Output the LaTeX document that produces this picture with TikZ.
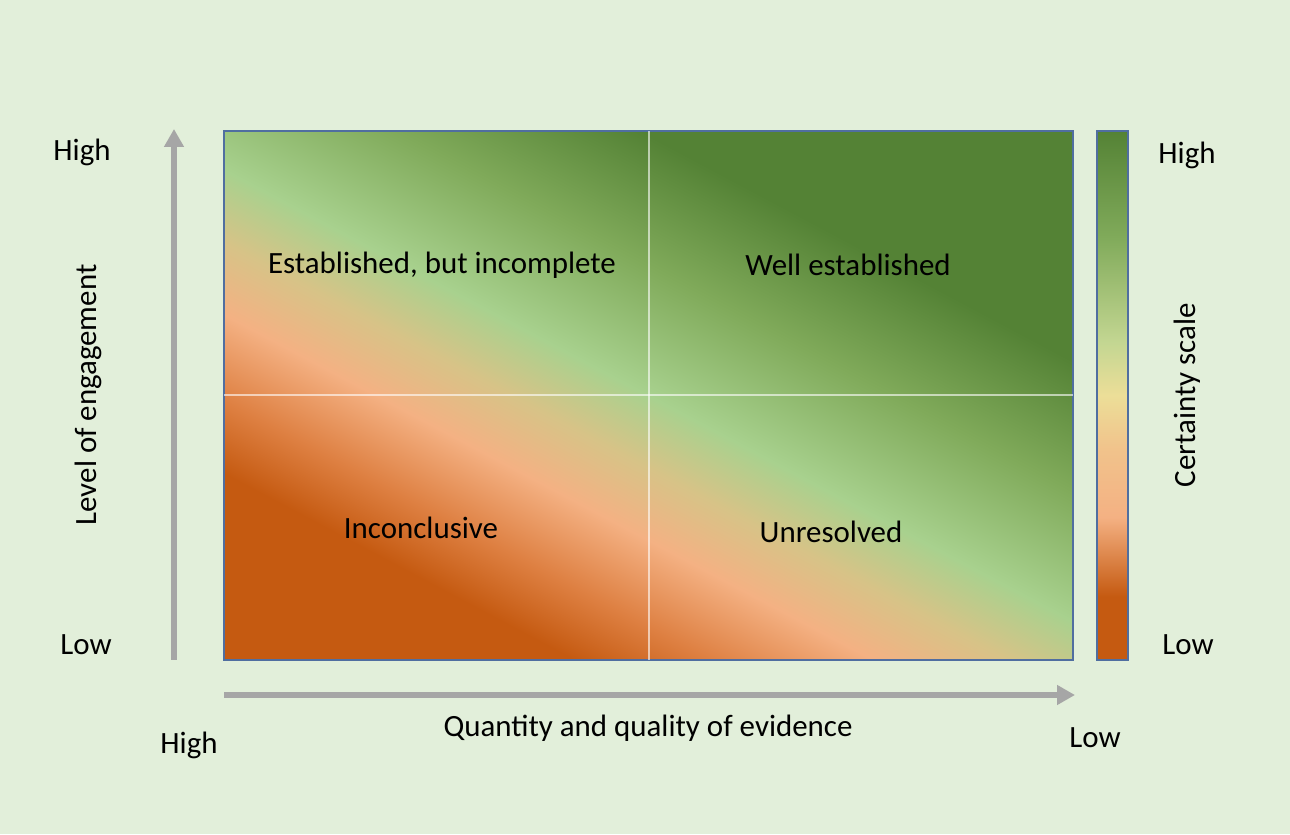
\documentclass[tikz,border=0pt]{standalone}
\usepackage{fontspec}
\setmainfont{Carlito}
\usetikzlibrary{arrows.meta}

\definecolor{pagebg}{RGB}{226,239,218}
\definecolor{lowdark}{RGB}{197,90,17}
\definecolor{lowmid}{RGB}{222,128,66}
\definecolor{lowlight}{RGB}{244,177,131}
\definecolor{midtan}{RGB}{215,195,135}
\definecolor{midyellow}{RGB}{236,222,152}
\definecolor{highlight}{RGB}{168,209,142}
\definecolor{highmid}{RGB}{128,170,90}
\definecolor{highdark}{RGB}{84,130,53}
\definecolor{axisgrey}{RGB}{166,166,166}
\definecolor{frameblue}{RGB}{80,110,160}

% diagonal field behind the four cells
\pgfdeclareverticalshading{certaintyfield}{100bp}{
  color(0bp)=(lowdark); color(29bp)=(lowdark); color(34bp)=(lowmid);
  color(40bp)=(lowlight); color(45bp)=(midtan); color(50bp)=(highlight);
  color(59bp)=(highmid); color(68bp)=(highdark); color(100bp)=(highdark)}
% the scale bar, low at the bottom
\pgfdeclareverticalshading{certaintybar}{100bp}{
  color(0bp)=(lowdark); color(31bp)=(lowdark); color(38.5bp)=(lowlight);
  color(45bp)=(lowlight!60!midyellow); color(50bp)=(midyellow);
  color(55bp)=(midyellow!40!highlight); color(65bp)=(highmid);
  color(75bp)=(highdark); color(100bp)=(highdark)}

\begin{document}
\begin{tikzpicture}[every node/.style={font=\fontsize{17.6}{21}\selectfont, inner sep=0pt},
    axis/.style={draw=axisgrey, line width=0.12cm, -{Triangle[width=0.38cm, length=0.36cm]}},
    cellline/.style={draw=white, opacity=0.6, line width=0.6pt},
    frame/.style={draw=frameblue, line width=0.6pt}]
    \useasboundingbox (0,0) rectangle (25.8,16.68);
    \fill[pagebg] (0,0) rectangle (25.8,16.68);

    % grid and scale bar
    \shade[shading=certaintyfield, shading angle=-28] (4.48,3.48) rectangle (21.46,14.06);
    \draw[frame] (4.48,3.48) rectangle (21.46,14.06);
    \draw[cellline] (12.98,3.48) -- (12.98,14.06);
    \draw[cellline] (4.48,8.78) -- (21.46,8.78);
    \shade[shading=certaintybar] (21.94,3.48) rectangle (22.56,14.06);
    \draw[frame] (21.94,3.48) rectangle (22.56,14.06);

    % axes
    \coordinate (yfoot) at (3.48,3.48);
    \coordinate (yhead) at (3.48,14.1);
    \coordinate (xfoot) at (4.48,2.78);
    \coordinate (xhead) at (21.5,2.78);
    \draw[axis] (yfoot) -- (yhead);
    \draw[axis] (xfoot) -- (xhead);

    % cell labels
    \node (partial) at (8.84,11.38) {Established, but incomplete};
    \node (wellest) at (16.96,11.38) {Well established};
    \node (inconcl) at (8.42,6.12) {Inconclusive};
    \node (unres) at (16.62,6.04) {Unresolved};

    % axis labels
    \node (yhigh) at (1.64,13.64) {High};
    \node (ylow) at (1.72,3.78) {Low};
    \node[rotate=90] (ytitle) at (1.76,8.78) {Level of engagement};
    \node (xhigh) at (3.78,1.78) {High};
    \node (xtitle) at (12.96,2.12) {Quantity and quality of evidence};
    \node (xlow) at (21.9,1.92) {Low};
    \node (shigh) at (23.74,13.58) {High};
    \node (slow) at (23.76,3.78) {Low};
    \node[rotate=90] (stitle) at (23.74,8.78) {Certainty scale};
\end{tikzpicture}
\end{document}
